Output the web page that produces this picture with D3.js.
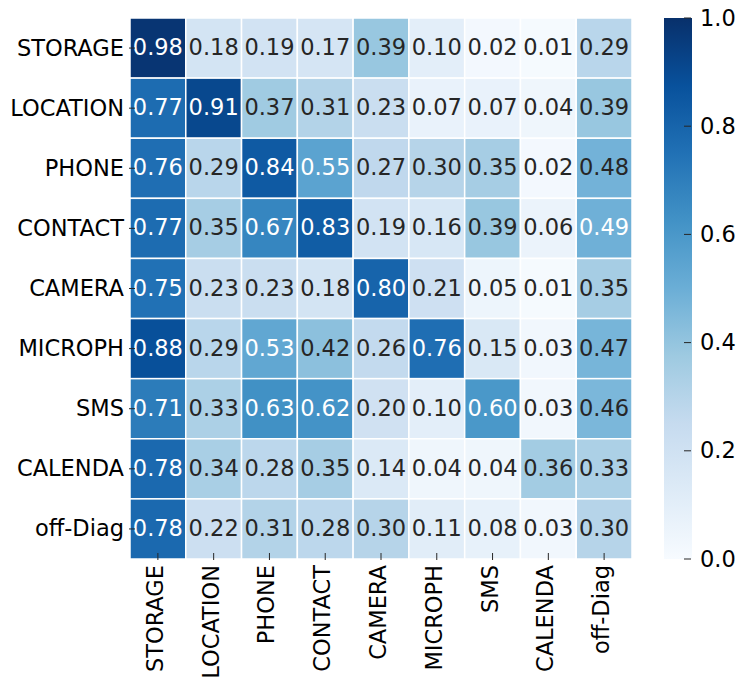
<!DOCTYPE html>
<html>
<head>
<meta charset="utf-8">
<script src="https://cdn.jsdelivr.net/npm/d3@7"></script>
<style>
  html, body { margin: 0; padding: 0; background: #fff; }
  svg { display: block; font-family: "DejaVu Sans", sans-serif; }
</style>
</head>
<body>
<svg id="chart" width="737" height="679"></svg>
<script>
// Permission categories (rows and columns share the same order)
const rowLabels = ["STORAGE", "LOCATION", "PHONE", "CONTACT", "CAMERA", "MICROPH", "SMS", "CALENDA", "off-Diag"];
const colLabels = ["STORAGE", "LOCATION", "PHONE", "CONTACT", "CAMERA", "MICROPH", "SMS", "CALENDA", "off-Diag"];

// Matrix values, one array per row
const rowStorage  = [0.98, 0.18, 0.19, 0.17, 0.39, 0.10, 0.02, 0.01, 0.29];
const rowLocation = [0.77, 0.91, 0.37, 0.31, 0.23, 0.07, 0.07, 0.04, 0.39];
const rowPhone    = [0.76, 0.29, 0.84, 0.55, 0.27, 0.30, 0.35, 0.02, 0.48];
const rowContact  = [0.77, 0.35, 0.67, 0.83, 0.19, 0.16, 0.39, 0.06, 0.49];
const rowCamera   = [0.75, 0.23, 0.23, 0.18, 0.80, 0.21, 0.05, 0.01, 0.35];
const rowMicroph  = [0.88, 0.29, 0.53, 0.42, 0.26, 0.76, 0.15, 0.03, 0.47];
const rowSms      = [0.71, 0.33, 0.63, 0.62, 0.20, 0.10, 0.60, 0.03, 0.46];
const rowCalenda  = [0.78, 0.34, 0.28, 0.35, 0.14, 0.04, 0.04, 0.36, 0.33];
const rowOffDiag  = [0.78, 0.22, 0.31, 0.28, 0.30, 0.11, 0.08, 0.03, 0.30];
const matrix = [rowStorage, rowLocation, rowPhone, rowContact, rowCamera, rowMicroph, rowSms, rowCalenda, rowOffDiag];

// Colour bar ticks
const cbarTicks = [0.0, 0.2, 0.4, 0.6, 0.8, 1.0];

// Sequential "Blues" ramp, linearly interpolated between the nine anchor colours
const bluesStops = ["#f7fbff", "#deebf7", "#c6dbef", "#9ecae1", "#6baed6", "#4292c6", "#2171b5", "#08519c", "#08306b"];

const svg = d3.select("#chart");
const FONT = 22.5;
const TEXT_DARK = "#262626";

const gridLeft = 130, gridRight = 632, gridTop = 18, gridBottom = 559;

const x = d3.scaleBand().domain(colLabels).range([gridLeft, gridRight]);
const y = d3.scaleBand().domain(rowLabels).range([gridTop, gridBottom]);
const color = d3.scaleLinear()
  .domain(bluesStops.map((_, i) => i / (bluesStops.length - 1)))
  .range(bluesStops)
  .interpolate(d3.interpolateRgb)
  .clamp(true);

// Relative luminance decides between light and dark annotation text
function luminance(c) {
  const rgb = d3.rgb(c);
  const lin = v => { v /= 255; return v <= 0.03928 ? v / 12.92 : Math.pow((v + 0.055) / 1.055, 2.4); };
  return 0.2126 * lin(rgb.r) + 0.7152 * lin(rgb.g) + 0.0722 * lin(rgb.b);
}

const cells = [];
matrix.forEach((row, i) => row.forEach((v, j) => cells.push({ r: rowLabels[i], c: colLabels[j], v })));

const g = svg.append("g");
g.selectAll("rect.cell").data(cells).enter().append("rect")
  .attr("class", "cell")
  .attr("x", d => x(d.c))
  .attr("y", d => y(d.r))
  .attr("width", x.bandwidth())
  .attr("height", y.bandwidth())
  .attr("fill", d => color(d.v))
  .attr("stroke", "#fff")
  .attr("stroke-width", 1.5);

g.selectAll("text.annot").data(cells).enter().append("text")
  .attr("class", "annot")
  .attr("x", d => x(d.c) + x.bandwidth() / 2)
  .attr("y", d => y(d.r) + y.bandwidth() / 2 + 7)
  .attr("text-anchor", "middle")
  .attr("font-size", FONT)
  .attr("fill", d => luminance(color(d.v)) > 0.40 ? TEXT_DARK : "#fff")
  .text(d => d3.format(".2f")(d.v));

// Row labels with short ticks
const yAxis = svg.append("g");
rowLabels.forEach(lbl => {
  const cy = y(lbl) + y.bandwidth() / 2;
  yAxis.append("line")
    .attr("x1", gridLeft - 1).attr("x2", gridLeft + 5)
    .attr("y1", cy).attr("y2", cy)
    .attr("stroke", TEXT_DARK).attr("stroke-width", 1);
  yAxis.append("text")
    .attr("x", 124).attr("y", cy + 7.5)
    .attr("text-anchor", "end")
    .attr("font-size", FONT)
    .attr("fill", "#000")
    .text(lbl);
});

// Column labels, rotated
const xAxis = svg.append("g");
colLabels.forEach(lbl => {
  const cx = x(lbl) + x.bandwidth() / 2;
  xAxis.append("line")
    .attr("x1", cx).attr("x2", cx)
    .attr("y1", gridBottom - 6).attr("y2", gridBottom + 1)
    .attr("stroke", TEXT_DARK).attr("stroke-width", 1);
  xAxis.append("text")
    .attr("transform", `translate(${cx + 5},${gridBottom + 6}) rotate(-90)`)
    .attr("text-anchor", "end")
    .attr("font-size", FONT)
    .attr("fill", "#000")
    .text(lbl);
});

// Colour bar
const cbLeft = 664, cbRight = 692;
const cbScale = d3.scaleLinear().domain([0, 1]).range([gridBottom, gridTop]);
const defs = svg.append("defs");
const grad = defs.append("linearGradient")
  .attr("id", "cbar").attr("x1", 0).attr("y1", 1).attr("x2", 0).attr("y2", 0);
bluesStops.forEach((c, i) => {
  grad.append("stop").attr("offset", i / (bluesStops.length - 1)).attr("stop-color", c);
});
svg.append("rect")
  .attr("x", cbLeft).attr("y", gridTop)
  .attr("width", cbRight - cbLeft).attr("height", gridBottom - gridTop)
  .attr("fill", "url(#cbar)");

const cb = svg.append("g");
cbarTicks.forEach(t => {
  const ty = cbScale(t);
  cb.append("line")
    .attr("x1", cbRight - 8).attr("x2", cbRight - 1)
    .attr("y1", ty).attr("y2", ty)
    .attr("stroke", TEXT_DARK).attr("stroke-width", 1);
  cb.append("text")
    .attr("x", 700).attr("y", ty + 7.5)
    .attr("font-size", FONT)
    .attr("fill", "#000")
    .text(d3.format(".1f")(t));
});
</script>
</body>
</html>
